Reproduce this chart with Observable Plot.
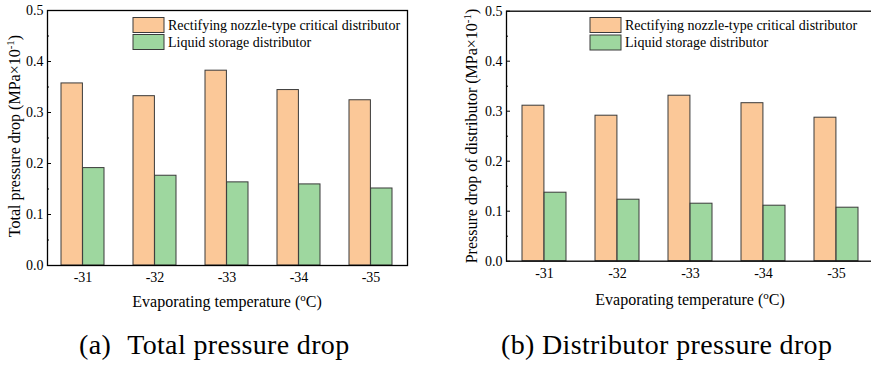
<!DOCTYPE html>
<html><head><meta charset="utf-8">
<script src="https://cdn.jsdelivr.net/npm/d3@7"></script>
<script src="https://cdn.jsdelivr.net/npm/@observablehq/plot@0.6"></script>
<style>
html,body{margin:0;padding:0;background:#fff;}
body{width:871px;height:365px;overflow:hidden;position:relative;font-family:"Liberation Serif","Times New Roman",Times,Tinos,"Nimbus Roman","DejaVu Serif",serif;color:#000;}
.panel{position:absolute;top:0;width:440px;height:320px;}
.panel svg{max-width:none !important;}
.panel svg, .panel svg text{font-family:"Liberation Serif","Times New Roman",Times,Tinos,"Nimbus Roman","DejaVu Serif",serif !important;}
.cap{position:absolute;font-size:28px;line-height:28px;white-space:pre;letter-spacing:0.35px;}
</style>
</head><body>
<div id="a" class="panel" style="left:0px"></div>
<div id="b" class="panel" style="left:440px"></div>
<div class="cap" style="left:79px;top:331px">(a)<span style="margin-left:16px">Total pressure drop</span></div>
<div class="cap" style="left:501px;top:331px">(b) Distributor pressure drop</div>
<script>
const temps = ["-31", "-32", "-33", "-34", "-35"];
const seriesNames = ["Rectifying nozzle-type critical distributor", "Liquid storage distributor"];
const seriesFill = ["#FBC898", "#9ED79F"];
const totalNozzle = [0.357, 0.332, 0.382, 0.344, 0.324];
const totalLiquid = [0.191, 0.176, 0.163, 0.159, 0.151];
const distNozzle = [0.311, 0.291, 0.331, 0.316, 0.287];
const distLiquid = [0.137, 0.123, 0.115, 0.111, 0.107];
const yTicks = [0, 0.1, 0.2, 0.3, 0.4, 0.5];
const yMinor = [0.05, 0.15, 0.25, 0.35, 0.45];
const xTitle = 'Evaporating temperature (<tspan dy="-6" font-size="11">o</tspan><tspan dy="6">C)</tspan>';

function panel(o) {
  const rows = temps.map((t, i) => ({t, a: o.values[0][i], b: o.values[1][i]}));
  const plotW = o.width - o.marginLeft - o.marginRight;
  const half = plotW / temps.length * 0.6 / 2;
  const svg = Plot.plot({
    width: o.width, height: 320,
    marginLeft: o.marginLeft, marginRight: o.marginRight, marginTop: o.marginTop, marginBottom: o.marginBottom,
    style: {fontSize: "14px", color: "#000", background: "transparent", overflow: "visible", maxWidth: "none"},
    x: {domain: temps, paddingInner: 0.4, paddingOuter: 0.2, label: null},
    y: {domain: [0, 0.5], label: null},
    marks: [
      Plot.barY(rows, {x: "t", y: "a", fill: seriesFill[0], stroke: "#3a3a3a", strokeWidth: 1, insetLeft: 0, insetRight: half}),
      Plot.barY(rows, {x: "t", y: "b", fill: seriesFill[1], stroke: "#3a3a3a", strokeWidth: 1, insetLeft: half, insetRight: 0}),
      Plot.frame({stroke: "#000", strokeWidth: 1.3}),
      Plot.axisY({ticks: yTicks, tickSize: -4, tickPadding: 8, tickFormat: d3.format(".1f"), label: null, fontSize: 14}),
      Plot.axisY({ticks: yMinor, tickSize: -2, tickFormat: () => "", label: null}),
      Plot.axisX({tickSize: 0, tickPadding: 7, label: null, fontSize: 14})
    ]
  });
  const s = d3.select(svg);
  s.append("text")
    .attr("x", (o.marginLeft + o.width - o.marginRight) / 2)
    .attr("y", o.xtitleY)
    .attr("text-anchor", "middle").attr("font-size", 16).attr("fill", "#000")
    .html(xTitle);
  s.append("text")
    .attr("transform", `translate(${o.ytitleX},${o.ytitleCY}) rotate(-90)`)
    .attr("text-anchor", "middle").attr("font-size", 16).attr("fill", "#000")
    .html(o.ytitle + ' (MPa×10<tspan dy="-6" font-size="11">-1</tspan><tspan dy="6">)</tspan>');
  const lg = s.append("g").attr("text-anchor", "start");
  seriesNames.forEach((name, i) => {
    lg.append("rect")
      .attr("x", o.legendX).attr("y", o.legendY[i] - 12)
      .attr("width", 31).attr("height", 15)
      .attr("fill", seriesFill[i]).attr("stroke", "#3a3a3a").attr("stroke-width", 1);
    lg.append("text")
      .attr("x", o.legendX + 35).attr("y", o.legendY[i])
      .attr("text-anchor", "start")
      .attr("font-size", 14).attr("fill", "#000")
      .text(name);
  });
  return svg;
}

document.getElementById("a").append(panel({
  values: [totalNozzle, totalLiquid],
  width: 440, marginLeft: 47, marginRight: 33, marginTop: 10, marginBottom: 55,
  xtitleY: 307, ytitleX: 19.5, ytitleCY: 136, ytitle: "Total pressure drop",
  legendX: 133, legendY: [29.5, 46.5]
}));
document.getElementById("b").append(panel({
  values: [distNozzle, distLiquid],
  width: 440, marginLeft: 66, marginRight: 6, marginTop: 10.7, marginBottom: 59.3,
  xtitleY: 305, ytitleX: 37, ytitleCY: 136, ytitle: "Pressure drop of distributor",
  legendX: 150, legendY: [29.5, 47]
}));
</script>
</body></html>
